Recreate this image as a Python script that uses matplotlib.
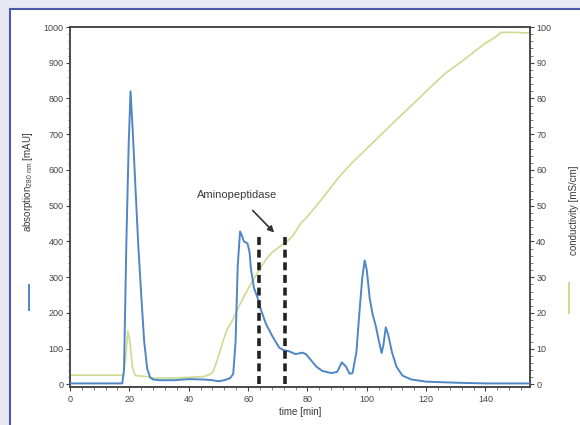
import matplotlib.pyplot as plt
from matplotlib.patches import Rectangle
from matplotlib.lines import Line2D
from matplotlib.ticker import MultipleLocator, AutoMinorLocator

plt.rcParams['font.family'] = ['Liberation Sans', 'DejaVu Sans']

# absorption trace (time in min, mAU)
abs_time = [0, 17.6, 18.2, 19, 19.8, 20.4, 21.2, 22, 23, 24, 25, 26, 27, 28, 30, 35, 40, 45,
            48, 50, 52, 54, 55, 55.8, 56.5, 57.3, 58, 58.6, 59.8, 60.5, 61, 62, 63.2, 64.3, 66,
            68.2, 70.5, 72, 73.8, 76, 78.3, 79.5, 81, 83, 85, 88, 90, 91.6, 93, 94.2, 95.2, 96.5,
            97.5, 98.5, 99.3, 100, 101, 102, 103, 104, 105, 105.6, 106.4, 107.2, 108.5, 110, 112,
            115, 120, 130, 140, 155]
abs_mau = [3, 3, 40, 400, 680, 820, 700, 560, 390, 250, 120, 45, 20, 14, 12, 12, 15, 14,
           12, 9, 12, 18, 30, 120, 330, 428, 415, 400, 395, 370, 321, 270, 243, 210, 170,
           135, 103, 96, 93, 85, 89, 85, 70, 50, 38, 32, 35, 62, 50, 30, 32, 90,
           200, 300, 347, 320, 240, 195, 165, 125, 88, 110, 160, 140, 90, 50, 25,
           14, 8, 5, 3, 3]

# conductivity trace (time in min, mS/cm)
cond_time = [0, 18, 18.8, 19.5, 20.2, 21, 22, 26, 28, 35, 45, 47, 48.1, 49.5, 51.4, 53, 54.8,
             57, 59.3, 61.5, 63.8, 66, 68.2, 70.5, 72.7, 75, 77.7, 80, 85, 90.6, 95, 100,
             107.4, 115, 120, 126.4, 133, 139.8, 143, 145.3, 150, 155]
cond_ms = [2.6, 2.6, 8, 15, 12, 5, 2.5, 2.2, 1.8, 1.8, 2.2, 2.8, 3.4, 6.5, 11.7, 15.5, 18,
           22, 25.7, 29, 32, 35, 37, 38.5, 39.7, 41.5, 45, 47, 52, 58, 62, 66,
           72, 78, 82, 87, 91, 95.4, 97, 98.5, 98.5, 98.3]

# fraction window of the aminopeptidase
fraction_bounds = [63.8, 72.5]
fraction_top = 420

blue = '#4f86c6'
green = '#c9dc8f'
txt = '#3a3a3a'

fig = plt.figure(figsize=(5.8, 4.25), dpi=100)
fig.patch.set_facecolor('#e8e8f2')
# white panel with blue frame, kept behind both axes
fig.patches.append(Rectangle((10 / 580, -0.1), 1.2, 1.1 - 9 / 425, transform=fig.transFigure,
                             facecolor='white', edgecolor='#4a5aa8', linewidth=1.5, zorder=-5))

ax = fig.add_axes([70 / 580, 1 - 387 / 425, 460 / 580, 360 / 425])
ax.plot(abs_time, abs_mau, color=blue, lw=1.4, zorder=3)
ax.set_xlim(0, 155)
ax.set_ylim(-7, 1000)

ax2 = ax.twinx()
ax2.plot(cond_time, cond_ms, color=green, lw=1.2, zorder=2)
ax2.set_ylim(-0.7, 100)
ax.set_zorder(ax2.get_zorder() + 1)
ax.patch.set_visible(False)

for x in fraction_bounds:
    ax.plot([x, x], [0, fraction_top], color='#222222', lw=2.6, linestyle=(0, (2.2, 1.3)), zorder=4)

ax.annotate('Aminopeptidase', xy=(68.8, 425), xytext=(56.4, 531), ha='center', va='center',
            fontsize=8, color=txt,
            arrowprops=dict(arrowstyle='-|>', color='#333333', lw=1.2, mutation_scale=9,
                            shrinkA=8, shrinkB=0))

# ticks
ax.xaxis.set_major_locator(MultipleLocator(20))
ax.xaxis.set_minor_locator(AutoMinorLocator(5))
ax.yaxis.set_major_locator(MultipleLocator(100))
ax.yaxis.set_minor_locator(AutoMinorLocator(5))
ax2.yaxis.set_major_locator(MultipleLocator(10))
ax2.yaxis.set_minor_locator(AutoMinorLocator(5))
for a in (ax, ax2):
    a.tick_params(which='major', length=3, width=0.8, labelsize=6.5, colors='#444444', pad=1.5)
    a.tick_params(which='minor', length=1.8, width=0.6, colors='#666666')
    for s in a.spines.values():
        s.set_color('#444444')
        s.set_linewidth(1.1)
ax.tick_params(axis='x', pad=3)

ax.set_xlabel('time [min]', fontsize=7, color=txt, labelpad=2)

# axis titles with small line keys
fig.text(28 / 580, 1 - 182 / 425, r'absorption$_{\mathregular{280\ nm}}$ [mAU]', rotation=90,
         ha='center', va='center', fontsize=7, color=txt)
fig.text(574 / 580, 1 - 210 / 425, 'conductivity [mS/cm]', rotation=90,
         ha='center', va='center', fontsize=7, color=txt)
fig.add_artist(Line2D([29 / 580, 29 / 580], [1 - 285 / 425, 1 - 310 / 425],
                      transform=fig.transFigure, color=blue, lw=1.4))
fig.add_artist(Line2D([569 / 580, 569 / 580], [1 - 283 / 425, 1 - 313 / 425],
                      transform=fig.transFigure, color=green, lw=1.4))

fig.savefig('out.png', dpi=100, facecolor=fig.get_facecolor())
